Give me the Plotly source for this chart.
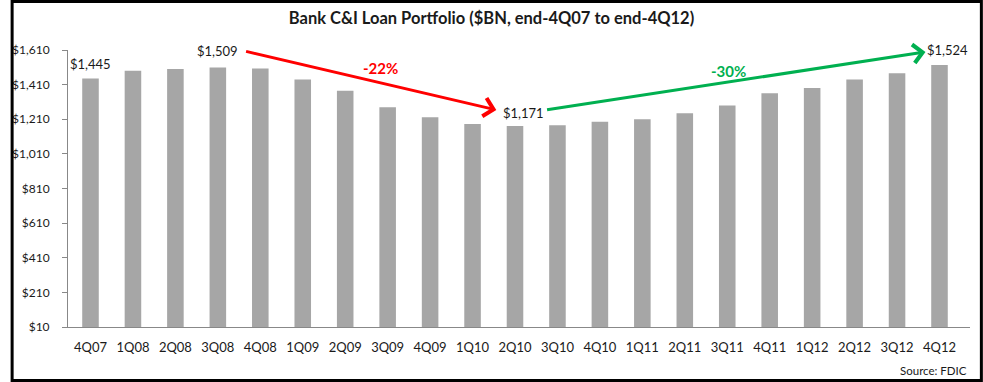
import plotly.graph_objects as go

quarters = ["4Q07", "1Q08", "2Q08", "3Q08", "4Q08", "1Q09", "2Q09", "3Q09", "4Q09",
            "1Q10", "2Q10", "3Q10", "4Q10", "1Q11", "2Q11", "3Q11", "4Q11",
            "1Q12", "2Q12", "3Q12", "4Q12"]
loans = [1445, 1490, 1500, 1509, 1503, 1440, 1375, 1280, 1222,
         1183, 1171, 1175, 1195, 1210, 1245, 1290, 1360,
         1390, 1440, 1475, 1524]
ytick_vals = [10, 210, 410, 610, 810, 1010, 1210, 1410, 1610]
ytick_text = ["$" + f"{v:,}" for v in ytick_vals]
labeled_idx = [0, 3, 10, 20]
decline_label = "-22%"
growth_label = "-30%"

W, H = 983, 382
L, R, T, B = 58, 13, 50, 55
pw, ph = W - L - R, H - T - B

def px_x(p):
    return (p - L) / pw

def px_y(p):
    return (H - B - p) / ph

FONT = "Lato"

fig = go.Figure()
fig.add_trace(go.Bar(x=quarters, y=loans, marker_color="#A6A6A6",
                     marker_line_width=0, width=0.39, hoverinfo="x+y"))

annotations = []
shifts = {0: (0, 15), 3: (0, 16), 10: (8, 13), 20: (8, 15)}
for i in labeled_idx:
    xs, ys = shifts[i]
    annotations.append(dict(x=i, y=loans[i], xref="x", yref="y",
                            text="$" + f"{loans[i]:,}", showarrow=False,
                            xshift=xs, yshift=ys, yanchor="middle",
                            font=dict(family=FONT, size=13, color="#1a1a1a")))

peak_i = loans.index(max(loans[:11]))
trough_i = loans.index(min(loans))
last_i = len(loans) - 1

red_tail = (peak_i + 0.63, loans[peak_i] + 95)
red_tip = (trough_i - 0.44, loans[trough_i] + 93)
green_tail = (trough_i + 0.72, loans[trough_i] + 93)
green_tip = (last_i - 0.33, loans[last_i] + 75)

for tail, tip, col in [(red_tail, red_tip, "#FF0000"), (green_tail, green_tip, "#00B050")]:
    annotations.append(dict(x=tip[0], y=tip[1], ax=tail[0], ay=tail[1],
                            xref="x", yref="y", axref="x", ayref="y",
                            text="", showarrow=True, arrowhead=4, arrowsize=1.2,
                            arrowwidth=3, arrowcolor=col, standoff=0))

annotations.append(dict(x=(red_tail[0] + red_tip[0]) / 2, y=(red_tail[1] + red_tip[1]) / 2,
                        xref="x", yref="y", text="<b>" + decline_label + "</b>", showarrow=False,
                        xshift=10, yshift=12,
                        font=dict(family=FONT, size=15, color="#FF0000")))
annotations.append(dict(x=(green_tail[0] + green_tip[0]) / 2, y=(green_tail[1] + green_tip[1]) / 2,
                        xref="x", yref="y", text="<b>" + growth_label + "</b>", showarrow=False,
                        xshift=-7, yshift=10,
                        font=dict(family=FONT, size=15, color="#00B050")))

annotations.append(dict(x=px_x(969), y=px_y(370), xref="paper", yref="paper",
                        text="Source: FDIC", showarrow=False, xanchor="right", yanchor="middle",
                        font=dict(family=FONT, size=11.5, color="#1a1a1a")))

shapes = [dict(type="rect", xref="paper", yref="paper",
               x0=px_x(1.5), x1=px_x(981.5), y0=px_y(1.5), y1=px_y(380.5),
               line=dict(color="black", width=3), fillcolor="rgba(0,0,0,0)")]

fig.update_layout(
    width=W, height=H,
    margin=dict(l=L, r=R, t=T, b=B, pad=0),
    paper_bgcolor="white", plot_bgcolor="white",
    title=dict(text="<b>Bank C&I Loan Portfolio ($BN, end-4Q07 to end-4Q12)</b>",
               x=0.5, xanchor="center", y=1 - 18 / H, yanchor="middle",
               font=dict(family=FONT, size=16.5, color="#1a1a1a")),
    showlegend=False,
    bargap=0.6,
    xaxis=dict(type="category", showline=True, linecolor="#888888", linewidth=1,
               ticks="", showgrid=False, zeroline=False,
               tickfont=dict(family=FONT, size=13, color="#1a1a1a"),
               ticklabelstandoff=8),
    yaxis=dict(range=[10, 1610], tickvals=ytick_vals, ticktext=ytick_text,
               showline=True, linecolor="#888888", linewidth=1,
               ticks="outside", ticklen=5, tickcolor="#888888",
               showgrid=False, zeroline=False,
               tickfont=dict(family=FONT, size=12, color="#1a1a1a"),
               ticklabelstandoff=10),
    annotations=annotations,
    shapes=shapes,
)

fig.write_html("out.html", config={"displayModeBar": False},
               post_script="document.body.style.margin='0';document.body.style.overflow='hidden';")
